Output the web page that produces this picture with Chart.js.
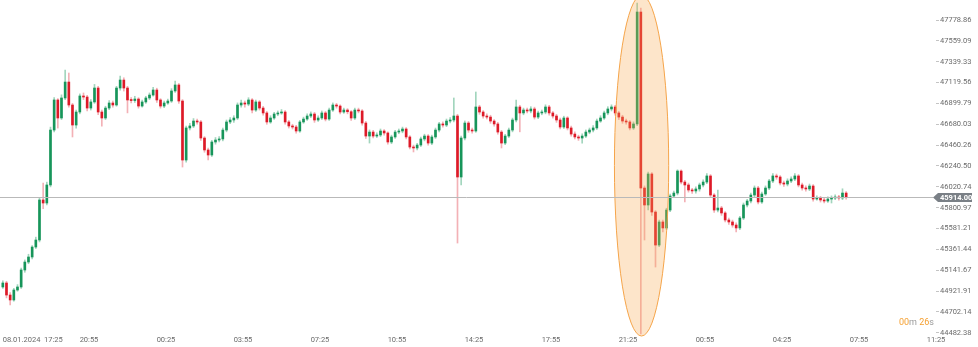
<!DOCTYPE html>
<html>
<head>
<meta charset="utf-8">
<title>Candles</title>
<script src="https://cdn.jsdelivr.net/npm/chart.js"></script>
<style>
  html, body { margin: 0; padding: 0; background: #fff; }
  canvas { display: block; }
</style>
</head>
<body>
<canvas id="candleChart" width="978" height="347"></canvas>
<script>
// 10-minute candles, first one at 08.01 17:00 (minutes counted from 08.01 00:00)
const START_MINUTE = 1020;
const STEP_MINUTES = 10;

const OPEN = [44965,45007,44880,44828,44933,44965,45144,45228,45281,45386,
    45460,45882,45850,46040,46619,46936,46746,46957,47125,46883,
    46672,46809,46978,46967,46851,46915,47062,46809,46746,46851,
    46904,46883,47062,47146,47062,46936,46930,46946,46872,46915,
    46957,46988,47041,46936,46872,46904,46925,47031,47094,46925,
    46303,46641,46662,46714,46704,46535,46409,46356,46493,46514,
    46525,46619,46704,46725,46746,46883,46904,46893,46936,46830,
    46915,46851,46799,46704,46746,46788,46799,46809,46704,46662,
    46651,46609,46704,46735,46767,46788,46725,46746,46799,46735,
    46830,46883,46872,46809,46830,46812,46746,46830,46820,46693,
    46556,46598,46556,46567,46609,46588,46493,46546,46598,46609,
    46630,46546,46440,46430,46461,46525,46556,46482,46546,46619,
    46683,46672,46714,46725,46767,46124,46535,46693,46619,46609,
    46862,46809,46767,46756,46714,46683,46598,46482,46556,46619,
    46725,46862,46799,46830,46820,46841,46756,46799,46809,46862,
    46799,46767,46725,46651,46746,46641,46577,46546,46535,46556,
    46598,46619,46641,46714,46746,46799,46841,46862,46799,46756,
    46714,46704,46641,46683,47863,46008,45829,46156,45755,45407,
    45650,45587,45776,45924,45955,46187,46071,46040,45987,45977,
    45998,46040,46071,46135,45934,45776,45797,45745,45671,45650,
    45618,45587,45692,45829,45871,45934,46008,45861,45945,46008,
    46082,46135,46124,46061,46050,46082,46103,46135,46040,46008,
    45998,46029,45892,45903,45882,45871,45892,45903,45913,45903,
    45955];

const HIGH = [45030,45025,44905,44950,44990,45165,45250,45310,45400,45490,
    45905,46060,46070,46650,46960,46950,46990,47252,47220,46900,
    46830,47000,47010,46985,46940,47100,47080,46830,46870,46930,
    46925,47080,47189,47170,47080,46960,46975,46960,46935,46975,
    47010,47070,47060,46950,46925,46945,47055,47136,47110,46940,
    46660,46690,46740,46735,46720,46550,46430,46510,46540,46550,
    46640,46725,46750,46770,46905,46935,46925,46960,46950,46935,
    46930,46870,46815,46770,46805,46820,46835,46825,46720,46680,
    46670,46720,46755,46790,46810,46805,46770,46820,46815,46850,
    46905,46900,46885,46850,46845,46825,46850,46850,46835,46710,
    46620,46615,46590,46630,46625,46600,46565,46615,46630,46650,
    46645,46560,46460,46480,46545,46575,46570,46565,46640,46700,
    46705,46735,46750,46957,46785,46555,46715,46710,46640,47020,
    46880,46825,46790,46775,46730,46700,46615,46575,46640,46745,
    46936,46880,46850,46850,46865,46860,46820,46830,46885,46880,
    46815,46785,46745,46765,46760,46660,46600,46565,46580,46620,
    46640,46665,46735,46770,46820,46865,46885,46880,46815,46775,
    46735,46720,46705,47958,47905,46030,46175,46170,45770,45670,
    45670,45795,45945,45975,46200,46200,46090,46060,46005,46020,
    46060,46095,46160,46150,45950,45987,45815,45760,45690,45670,
    45640,45710,45850,45890,45955,46030,46025,45965,46030,46100,
    46160,46155,46140,46080,46105,46125,46160,46150,46060,46030,
    46050,46045,45925,45920,45900,45915,45925,45935,45930,46000,
    45970];

const LOW = [44950,44850,44775,44815,44920,44950,45120,45210,45260,45370,
    45440,45790,45830,46020,46600,46640,46730,46940,46860,46546,
    46640,46790,46940,46820,46830,46900,46780,46660,46730,46835,
    46860,46870,47040,47030,46800,46905,46910,46850,46860,46900,
    46940,46975,46910,46850,46855,46890,46910,47015,46900,46229,
    46280,46620,46645,46680,46510,46385,46303,46340,46470,46495,
    46505,46600,46685,46700,46730,46860,46860,46875,46800,46815,
    46830,46775,46680,46690,46730,46770,46785,46680,46640,46630,
    46585,46595,46690,46720,46750,46700,46710,46730,46715,46720,
    46815,46850,46790,46795,46790,46720,46730,46800,46670,46530,
    46482,46535,46540,46550,46565,46470,46475,46530,46580,46590,
    46525,46420,46388,46410,46445,46505,46460,46465,46530,46600,
    46650,46655,46695,46705,45428,46040,46515,46595,46585,46595,
    46785,46745,46735,46690,46660,46575,46430,46465,46540,46600,
    46705,46600,46780,46800,46800,46735,46740,46780,46790,46775,
    46745,46700,46630,46635,46620,46555,46525,46510,46482,46540,
    46580,46600,46625,46700,46730,46780,46820,46775,46730,46690,
    46680,46620,46625,46665,44470,45460,45776,45720,45175,45390,
    45545,45570,45760,45905,45935,46050,45861,45965,45950,45955,
    45975,46020,46055,45910,45750,45755,45720,45650,45625,45595,
    45544,45570,45675,45810,45850,45915,45840,45845,45930,45990,
    46065,46100,46040,46025,46030,46065,46085,46020,45985,45975,
    45980,45870,45880,45860,45850,45855,45850,45885,45880,45885,
    45890];

const CLOSE = [45007,44880,44828,44933,44965,45144,45228,45281,45386,45460,
    45882,45850,46040,46619,46936,46746,46957,47125,46883,46672,
    46809,46978,46967,46851,46915,47062,46809,46746,46851,46904,
    46883,47062,47146,47062,46936,46930,46946,46872,46915,46957,
    46988,47041,46936,46872,46904,46925,47031,47094,46925,46303,
    46641,46662,46714,46704,46535,46409,46356,46493,46514,46525,
    46619,46704,46725,46746,46883,46904,46893,46936,46830,46915,
    46851,46799,46704,46746,46788,46799,46809,46704,46662,46651,
    46609,46704,46735,46767,46788,46725,46746,46799,46735,46830,
    46883,46872,46809,46830,46812,46746,46830,46820,46693,46556,
    46598,46556,46567,46609,46588,46493,46546,46598,46609,46630,
    46546,46440,46430,46461,46525,46556,46482,46546,46619,46683,
    46672,46714,46725,46767,46124,46535,46693,46619,46609,46862,
    46809,46767,46756,46714,46683,46598,46482,46556,46619,46725,
    46862,46799,46830,46820,46841,46756,46799,46809,46862,46799,
    46767,46725,46651,46746,46641,46577,46546,46535,46556,46598,
    46619,46641,46714,46746,46799,46841,46862,46799,46756,46714,
    46704,46641,46683,47863,46008,45829,46156,45755,45407,45650,
    45587,45776,45924,45955,46187,46071,46040,45987,45977,45998,
    46040,46071,46135,45934,45776,45797,45745,45671,45650,45618,
    45587,45692,45829,45871,45934,46008,45861,45945,46008,46082,
    46135,46124,46061,46050,46082,46103,46135,46040,46008,45998,
    46029,45892,45903,45882,45871,45892,45903,45913,45903,45955,
    45914];

const LAST_PRICE = 45914.00;

// x axis labels (minute of the label, text)
const X_TICK_MINUTES = [1071, 1158, 1255, 1465, 1675, 1885, 2095, 2305, 2515, 2725, 2935, 3145, 3355, 3565];
const X_TICK_LABELS = ['08.01.2024', '17:25', '20:55', '00:25', '03:55', '07:25', '10:55', '14:25', '17:55', '21:25', '00:55', '04:25', '07:55', '11:25'];

const Y_TICKS = [47778.86, 47559.09, 47339.33, 47119.56, 46899.79, 46680.03, 46460.26, 46240.50,
    46020.74, 45800.97, 45581.21, 45361.44, 45141.67, 44921.91, 44702.14, 44482.38];

// highlighted spike region: centre minute, half width in minutes, price span
const HIGHLIGHT = { minute: 2762, halfWidth: 74, top: 48040, bottom: 44448 };

const UP = '#17955a';
const DOWN = '#dd1a28';
const UP_WICK = 'rgba(23,149,90,0.4)';
const DOWN_WICK = 'rgba(221,26,40,0.34)';
const AXIS_FONT = { family: 'Roboto', size: 7.5 };

const minutes = OPEN.map((_, i) => START_MINUTE + i * STEP_MINUTES);
const isUp = i => CLOSE[i] >= OPEN[i];

const bodies = OPEN.map((o, i) => ({ x: minutes[i], y: [o, CLOSE[i]] }));
const wicks = OPEN.map((o, i) => ({ x: minutes[i], y: [LOW[i], HIGH[i]] }));

function noPadding(scale) {
    scale.paddingTop = 0;
    scale.paddingBottom = 0;
    scale.paddingLeft = 0;
    scale.paddingRight = 0;
}

const highlightPlugin = {
    id: 'highlight',
    afterDatasetsDraw(chart) {
        const { ctx, scales: { x, y } } = chart;
        const cx = x.getPixelForValue(HIGHLIGHT.minute);
        const rx = x.getPixelForValue(HIGHLIGHT.minute + HIGHLIGHT.halfWidth) - cx;
        const top = y.getPixelForValue(HIGHLIGHT.top);
        const bottom = y.getPixelForValue(HIGHLIGHT.bottom);
        ctx.save();
        ctx.beginPath();
        ctx.ellipse(cx, (top + bottom) / 2, rx, (bottom - top) / 2, 0, 0, Math.PI * 2);
        ctx.fillStyle = 'rgba(250,170,80,0.30)';
        ctx.fill();
        ctx.strokeStyle = '#f5a449';
        ctx.lineWidth = 1;
        ctx.stroke();
        ctx.restore();
    }
};

const priceLinePlugin = {
    id: 'priceLine',
    afterDraw(chart) {
        const { ctx, chartArea, scales: { y } } = chart;
        const py = Math.round(y.getPixelForValue(LAST_PRICE)) + 0.5;
        ctx.save();
        ctx.strokeStyle = '#b9b9b9';
        ctx.lineWidth = 1;
        ctx.beginPath();
        ctx.moveTo(chartArea.left, py);
        ctx.lineTo(chartArea.right - 3, py);
        ctx.stroke();

        // price tag
        const x0 = chartArea.right - 3;
        ctx.fillStyle = '#7a8086';
        ctx.beginPath();
        ctx.moveTo(x0, py);
        ctx.lineTo(x0 + 5, py - 4.5);
        ctx.lineTo(chartArea.right + 36, py - 4.5);
        ctx.lineTo(chartArea.right + 36, py + 4.5);
        ctx.lineTo(x0 + 5, py + 4.5);
        ctx.closePath();
        ctx.fill();
        ctx.fillStyle = '#ffffff';
        ctx.font = 'bold 7.5px Roboto';
        ctx.textAlign = 'left';
        ctx.textBaseline = 'middle';
        ctx.fillText(LAST_PRICE.toFixed(2), chartArea.right + 4, py + 0.5);

        // countdown to next candle
        const parts = [['00', '#f5a031'], ['m ', '#9a9a9a'], ['26', '#f5a031'], ['s', '#9a9a9a']];
        ctx.font = '9px Roboto';
        let total = 0;
        parts.forEach(p => { total += ctx.measureText(p[0]).width; });
        let tx = chartArea.right - 2 - total;
        parts.forEach(p => {
            ctx.fillStyle = p[1];
            ctx.fillText(p[0], tx, 322.5);
            tx += ctx.measureText(p[0]).width;
        });
        ctx.restore();
    }
};

new Chart(document.getElementById('candleChart').getContext('2d'), {
    type: 'bar',
    data: {
        datasets: [{
            label: 'body',
            data: bodies,
            grouped: false,
            barThickness: 2,
            minBarLength: 1,
            backgroundColor: ctx => isUp(ctx.dataIndex) ? UP : DOWN,
            borderWidth: 0
        }, {
            label: 'wick',
            data: wicks,
            grouped: false,
            barThickness: 1,
            backgroundColor: ctx => isUp(ctx.dataIndex) ? UP_WICK : DOWN_WICK,
            borderWidth: 0
        }]
    },
    options: {
        responsive: false,
        animation: false,
        layout: { padding: 0 },
        plugins: {
            legend: { display: false },
            tooltip: { enabled: false }
        },
        scales: {
            x: {
                type: 'linear',
                min: 1012.3,
                max: 3565,
                offset: false,
                grid: { display: false, drawTicks: false },
                border: { display: false },
                afterBuildTicks: scale => { scale.ticks = X_TICK_MINUTES.map(v => ({ value: v })); },
                afterFit: scale => { scale.height = 12; noPadding(scale); },
                ticks: {
                    autoSkip: false,
                    maxRotation: 0,
                    padding: 1,
                    color: '#6b6b6b',
                    font: AXIS_FONT,
                    callback: v => X_TICK_LABELS[X_TICK_MINUTES.indexOf(v)]
                }
            },
            y: {
                position: 'right',
                min: 44458.8,
                max: 47989.7,
                grid: { drawOnChartArea: false, drawTicks: true, tickLength: 3, color: '#c4c4c4' },
                border: { display: false },
                afterBuildTicks: scale => { scale.ticks = Y_TICKS.map(v => ({ value: v })); },
                afterFit: scale => { scale.width = 42; noPadding(scale); },
                ticks: {
                    padding: 1,
                    color: '#6b6b6b',
                    font: AXIS_FONT,
                    callback: v => v.toFixed(2)
                }
            }
        }
    },
    plugins: [highlightPlugin, priceLinePlugin]
});
</script>
</body>
</html>
